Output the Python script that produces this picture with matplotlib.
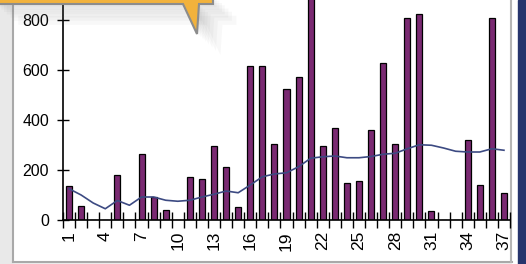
import matplotlib.pyplot as plt
from matplotlib.patches import Rectangle, Polygon

# chart data
categories = list(range(1, 38))
counts = [135, 55, 0, 0, 180, 0, 265, 92, 39, 0, 172, 164, 297, 212, 53,
          617, 617, 304, 525, 572, 980, 296, 369, 148, 156, 360, 628, 304,
          807, 823, 37, 0, 0, 320, 141, 807, 108]
trend = [125, 100, 68, 45, 78, 59, 92, 92, 79, 75, 79, 92, 103, 116, 109,
         140, 173, 184, 189, 213, 247, 253, 256, 249, 249, 254, 263, 267,
         285, 301, 299, 288, 275, 272, 272, 285, 279]
tick_labels = [1, 4, 7, 10, 13, 16, 19, 22, 25, 28, 31, 34, 37]
y_ticks = [0, 200, 400, 600, 800]

plt.rcParams['font.family'] = ['Liberation Sans', 'DejaVu Sans']

W, H = 526, 264
fig = plt.figure(figsize=(W / 100, H / 100), dpi=100)

# background frame of the screenshot (pixel coordinates)
bg = fig.add_axes([0, 0, 1, 1], zorder=-1)
bg.set_xlim(0, W)
bg.set_ylim(H, 0)
bg.axis('off')
bg.add_patch(Rectangle((0, 0), W, H, color='#e9e9e9'))
bg.add_patch(Rectangle((13, 0), 499, 262, color='white'))
bg.plot([13, 13], [0, 262], color='#a9a9a9', lw=1.5)
bg.plot([13, 512], [262, 262], color='#a9a9a9', lw=1.5)
bg.plot([511, 511], [0, 262], color='#b5b5b5', lw=1.5)
bg.add_patch(Rectangle((512, 0), 6, H, color='white'))
bg.add_patch(Rectangle((518, 0), 8, H, color='#26346c'))

# the chart itself: zero at y=220px, 0.25 px per unit
ax = fig.add_axes([63 / W, (H - 220) / H, 447 / W, 250 / H])
ax.set_facecolor('none')
ax.bar(categories, counts, width=0.5, color='#7a2a72', edgecolor='black',
       linewidth=0.9, zorder=2)
ax.plot(categories, trend, color='#3c4a82', lw=1.2, zorder=3)

ax.set_xlim(0.5, 37.5)
ax.set_ylim(0, 1000)
ax.set_yticks(y_ticks)
ax.tick_params(axis='y', direction='inout', length=8, width=1, pad=6,
               labelsize=11.5)
ax.set_xticks([i + 0.5 for i in range(0, 38)])
ax.set_xticklabels([])
ax.tick_params(axis='x', which='major', direction='inout', length=11, width=1)
ax.set_xticks(tick_labels, minor=True)
ax.set_xticklabels([str(t) for t in tick_labels], minor=True, rotation=90,
                   fontsize=12.5)
ax.tick_params(axis='x', which='minor', length=0, pad=8)
for s in ['top', 'right']:
    ax.spines[s].set_visible(False)
ax.spines['left'].set_linewidth(1.2)
ax.spines['bottom'].set_linewidth(1.2)

# orange callout at the top with a soft shadow
top = fig.add_axes([0, 0, 1, 1], zorder=10)
top.set_xlim(0, W)
top.set_ylim(H, 0)
top.axis('off')
callout = [(-5, -5), (213, -5), (213, 4), (199, 4), (197, 34), (183, 4),
           (-5, 4)]
for off in [26, 21, 17, 13, 10, 7, 4, 2]:
    shadow = [(x + off * 0.9, y + off * 0.8) for x, y in callout]
    top.add_patch(Polygon(shadow, closed=True, color='#7a7a7a', alpha=0.05,
                          lw=0))
top.add_patch(Polygon(callout, closed=True, facecolor='#f2b23c',
                      edgecolor='#8c8c8c', lw=1.5))

fig.savefig('out.png', dpi=100)
